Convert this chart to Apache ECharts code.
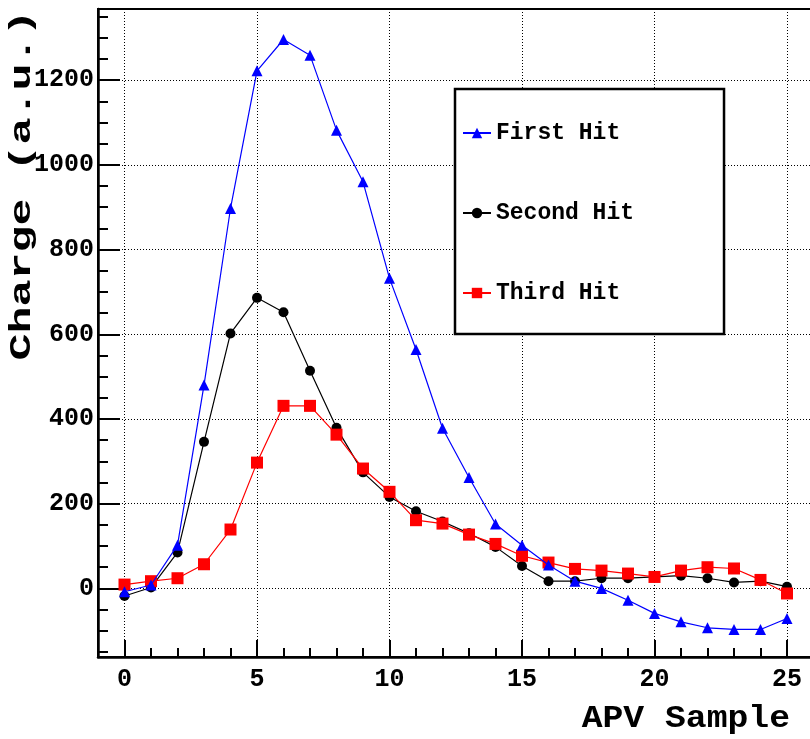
<!DOCTYPE html>
<html>
<head>
<meta charset="utf-8">
<script src="https://cdn.jsdelivr.net/npm/echarts@6/dist/echarts.min.js"></script>
<style>
  html, body { margin: 0; padding: 0; background: #fff; }
  #chart { width: 810px; height: 739px; }
</style>
</head>
<body>
<div id="chart"></div>
<script>
// APV samples (x) and charge per hit (y)
var samples = [0, 1, 2, 3, 4, 5, 6, 7, 8, 9, 10, 11, 12, 13, 14, 15, 16, 17, 18, 19, 20, 21, 22, 23, 24, 25];
var firstHit = [-8, 8, 102, 480, 897, 1222, 1296, 1259, 1082, 960, 732, 564, 378, 262, 152, 102, 55, 17, 0, -28, -59, -79, -93, -97, -97, -71];
var secondHit = [-18, 2, 85, 346, 602, 686, 652, 514, 379, 274, 216, 182, 158, 130, 98, 53, 17, 17, 24, 24, 27, 30, 24, 14, 17, 4];
var thirdHit = [9, 17, 24, 57, 139, 297, 431, 431, 363, 283, 228, 161, 153, 127, 105, 77, 61, 46, 42, 35, 27, 42, 50, 47, 20, -12];

var xTicks = [0, 5, 10, 15, 20, 25];
var yTicks = [0, 200, 400, 600, 800, 1000, 1200];

// minor ticks (every 1 on x, every 50 on y)
var xMinor = [];
for (var i = -1; i <= 26; i++) xMinor.push(i);
var yMinor = [];
for (var v = -150; v <= 1350; v += 50) yMinor.push(v);

var X_MIN = -1, X_MAX = 26;
var Y_MIN = -162, Y_MAX = 1368;

var FONT = '"Liberation Mono", "Courier New", monospace';

function pairs(ys) {
  return samples.map(function (x, k) { return [x, ys[k]]; });
}

// plain numbers, no thousands separator
function plain(val) {
  return String(val);
}

var chart = echarts.init(document.getElementById('chart'), null, { renderer: 'canvas' });

var dotted = { color: '#000', width: 1, type: [1, 2] };
var tickLine = { color: '#000', width: 2 };

var option = {
  backgroundColor: '#fff',
  animation: false,
  grid: [
    {
      left: 98, top: 9, width: 715.5, height: 648, outerBoundsMode: 'none',
      show: true, borderColor: '#000', borderWidth: 2, backgroundColor: 'transparent'
    },
    // same rectangle, only carries the minor ticks
    { left: 98, top: 9, width: 715.5, height: 648, outerBoundsMode: 'none', show: false }
  ],
  xAxis: [
    {
      type: 'value', gridIndex: 0, min: X_MIN, max: X_MAX, position: 'bottom',
      axisLine: { show: true, onZero: false, lineStyle: { color: '#000', width: 2.5 } },
      axisTick: { show: true, inside: true, length: 17, customValues: xTicks, lineStyle: tickLine },
      axisLabel: { customValues: xTicks, formatter: plain, margin: 10, color: '#000', fontFamily: FONT, fontWeight: 'bold', fontSize: 25 },
      splitLine: { show: true, lineStyle: dotted }
    },
    {
      type: 'value', gridIndex: 1, min: X_MIN, max: X_MAX, position: 'bottom',
      axisLine: { show: false, onZero: false },
      axisTick: { show: true, inside: true, length: 9, customValues: xMinor, lineStyle: tickLine },
      axisLabel: { show: false },
      splitLine: { show: false }
    }
  ],
  yAxis: [
    {
      type: 'value', gridIndex: 0, min: Y_MIN, max: Y_MAX, position: 'left',
      axisLine: { show: true, onZero: false, lineStyle: { color: '#000', width: 2.5 } },
      axisTick: { show: true, inside: true, length: 22, customValues: yTicks, lineStyle: tickLine },
      axisLabel: { customValues: yTicks, formatter: plain, margin: 4, color: '#000', fontFamily: FONT, fontWeight: 'bold', fontSize: 25 },
      splitLine: { show: true, lineStyle: dotted }
    },
    {
      type: 'value', gridIndex: 1, min: Y_MIN, max: Y_MAX, position: 'left',
      axisLine: { show: false, onZero: false },
      axisTick: { show: true, inside: true, length: 10, customValues: yMinor, lineStyle: tickLine },
      axisLabel: { show: false },
      splitLine: { show: false }
    }
  ],
  legend: {
    orient: 'vertical',
    left: 455, top: 89,
    padding: [32, 90, 29, 7],
    itemGap: 56,
    itemWidth: 28, itemHeight: 13,
    backgroundColor: '#fff',
    borderColor: '#000', borderWidth: 2.5, borderRadius: 0,
    selectedMode: false,
    textStyle: { color: '#000', fontFamily: FONT, fontWeight: 'bold', fontSize: 23, lineHeight: 24 },
    data: ['First Hit', 'Second Hit', 'Third Hit']
  },
  graphic: [
    {
      type: 'text', x: 22, y: 185, rotation: Math.PI / 2, scaleX: 1.5, z: 10,
      style: { text: 'Charge (a.u.)', fill: '#000', font: 'bold 30px ' + FONT, align: 'center', verticalAlign: 'middle' }
    },
    {
      type: 'text', x: 790, y: 719, scaleX: 1.12, z: 10,
      style: { text: 'APV Sample', fill: '#000', font: 'bold 31px ' + FONT, align: 'right', verticalAlign: 'middle' }
    }
  ],
  series: [
    {
      name: 'First Hit', type: 'line', xAxisIndex: 0, yAxisIndex: 0, z: 4,
      data: pairs(firstHit),
      symbol: 'triangle', symbolSize: 11,
      itemStyle: { color: '#0000ff' },
      lineStyle: { color: '#0000ff', width: 1.2 }
    },
    {
      name: 'Second Hit', type: 'line', xAxisIndex: 0, yAxisIndex: 0, z: 2,
      data: pairs(secondHit),
      symbol: 'circle', symbolSize: 10,
      itemStyle: { color: '#000' },
      lineStyle: { color: '#000', width: 1.2 }
    },
    {
      name: 'Third Hit', type: 'line', xAxisIndex: 0, yAxisIndex: 0, z: 3,
      data: pairs(thirdHit),
      symbol: 'rect', symbolSize: 12,
      itemStyle: { color: '#ff0000' },
      lineStyle: { color: '#ff0000', width: 1.2 }
    }
  ]
};

chart.setOption(option);
</script>
</body>
</html>
